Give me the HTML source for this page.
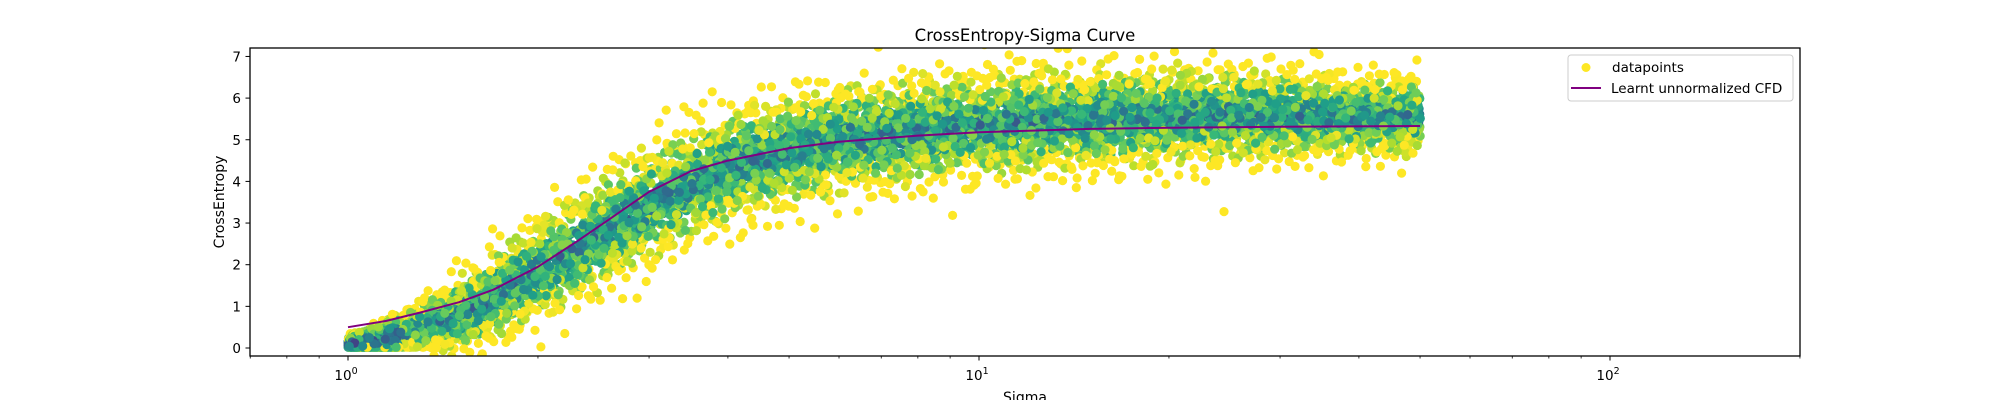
<!DOCTYPE html>
<html><head><meta charset="utf-8"><style>
html,body{margin:0;padding:0;background:#fff;}
svg text{font-family:"DejaVu Sans","Liberation Sans",sans-serif;fill:#000;}
</style></head><body>
<svg id="chart" width="2000" height="400" viewBox="0 0 2000 400" xmlns="http://www.w3.org/2000/svg">
<rect x="0" y="0" width="2000" height="400" fill="#fff"/>
<text x="1025" y="41" font-size="16.5" text-anchor="middle">CrossEntropy-Sigma Curve</text>
<defs><clipPath id="plotclip"><rect x="250" y="48" width="1550" height="308"/></clipPath></defs>
<g id="scatter" clip-path="url(#plotclip)"></g>
<g id="curve" clip-path="url(#plotclip)"></g>
<rect x="250" y="48" width="1550" height="308" fill="none" stroke="#000" stroke-width="1.3"/>
<g id="axes"></g>
<text x="1025" y="402" font-size="14" text-anchor="middle">Sigma</text>
<text x="0" y="0" font-size="14" text-anchor="middle" transform="translate(224,202) rotate(-90)">CrossEntropy</text>
<g>
<rect x="1568" y="55" width="225" height="46" rx="3" fill="#fff" fill-opacity="0.8" stroke="#ccc" stroke-width="1"/>
<circle cx="1586" cy="67.5" r="4.5" fill="#fde725"/>
<text x="1612" y="72" font-size="13.5">datapoints</text>
<line x1="1571" y1="88" x2="1601" y2="88" stroke="#800080" stroke-width="2"/>
<text x="1611" y="93" font-size="13.5">Learnt unnormalized CFD</text>
</g>
</svg>
<script>
// ---- data ----
const curveSigma = [1, 1.15, 1.3, 1.5, 1.7, 2.0, 2.3, 2.6, 3.0, 3.5, 4.0, 5.0, 6.0, 8.0, 10, 15, 20, 30, 50];
const curveCE    = [0.5, 0.65, 0.85, 1.1, 1.4, 1.95, 2.55, 3.1, 3.75, 4.25, 4.5, 4.8, 4.95, 5.1, 5.18, 5.26, 5.29, 5.31, 5.33];
const bandLogSigma = [0, 0.05, 0.1, 0.2, 0.3, 0.4, 0.5, 0.6, 0.7, 0.8, 1.0, 1.2, 1.4, 1.7];
const bandMean     = [0.1, 0.2, 0.4, 0.95, 1.85, 2.75, 3.65, 4.3, 4.75, 5.05, 5.35, 5.5, 5.6, 5.55];
const bandSpread   = [0.08, 0.15, 0.27, 0.48, 0.6, 0.66, 0.68, 0.68, 0.66, 0.64, 0.62, 0.6, 0.55, 0.45];
const xTickLabels = ["0", "1", "2"];
const yTicks = [0, 1, 2, 3, 4, 5, 6, 7];
const nPoints = 6500;

// ---- axes ----
const X0 = 348, DEC = 631, Y0 = 348, YU = 41.65;
const xScale = s => X0 + Math.log10(s) * DEC;
const xLog = l => X0 + l * DEC;
const yScale = v => Y0 - v * YU;
const NS = "http://www.w3.org/2000/svg";
function mk(tag, attrs, parent) {
  const e = document.createElementNS(NS, tag);
  for (const k in attrs) e.setAttribute(k, attrs[k]);
  parent.appendChild(e); return e;
}
function interp(xs, ys, x) {
  if (x <= xs[0]) return ys[0];
  for (let i = 1; i < xs.length; i++) if (x <= xs[i]) {
    const t = (x - xs[i-1]) / (xs[i] - xs[i-1]); return ys[i-1] + t * (ys[i] - ys[i-1]);
  }
  return ys[ys.length - 1];
}
function halton(i, b) { let f = 1, r = 0; while (i > 0) { f /= b; r += f * (i % b); i = Math.floor(i / b); } return r; }
const vir = [[68,1,84],[72,40,120],[62,74,137],[49,104,142],[38,130,142],[31,158,137],[53,183,121],[109,205,89],[180,222,44],[253,231,37]];
function viridis(t) {
  t = Math.max(0, Math.min(1, t)) * 9; const i = Math.min(8, Math.floor(t)), f = t - i;
  const c = vir[i].map((v, k) => Math.round(v + f * (vir[i+1][k] - v)));
  return `rgb(${c[0]},${c[1]},${c[2]})`;
}

const axes = document.getElementById('axes');
yTicks.forEach(v => {
  const y = yScale(v);
  const tk = mk('line', {x1: 245.5, y1: y, x2: 250, y2: y, stroke: '#000', 'stroke-width': 1}, axes);
  
  
  const t = mk('text', {x: 241, y: y + 5, 'font-size': 13.5, 'text-anchor': 'end'}, axes);
  t.textContent = String(v);
  
  
});
xTickLabels.forEach(p => {
  const x = xLog(+p);
  const tk = mk('line', {x1: x, y1: 356, x2: x, y2: 360.5, stroke: '#000', 'stroke-width': 1}, axes);
  
  
  const t = mk('text', {x: x - 2, y: 380, 'font-size': 13.5, 'text-anchor': 'middle'}, axes);
  t.textContent = '10';
  const sup = document.createElementNS(NS, 'tspan');
  sup.setAttribute('dy', -6); sup.setAttribute('font-size', 9.5); sup.textContent = p;
  t.appendChild(sup);
  
  
});
[-1, 0, 1, 2].forEach(d => {
  for (let m = 2; m <= 9; m++) {
    const v = m * Math.pow(10, d), x = xScale(v);
    if (x < 250 || x > 1800.5) continue;
    const tk = mk('line', {x1: x, y1: 356, x2: x, y2: 358.5, stroke: '#000', 'stroke-width': 0.8}, axes);
    
    
  }
});

// ---- scatter ----
const sc = document.getElementById('scatter');
let frag = document.createDocumentFragment();
for (let i = 1; i <= nPoints; i++) {
  let u = halton(i, 2);
  let l;
  if (i % 7 === 0) l = u * 0.08; else l = u * 1.7;
  const m = interp(bandLogSigma, bandMean, l), s = interp(bandLogSigma, bandSpread, l);
  const a = Math.max(1e-4, halton(i, 3)), b = halton(i, 5);
  const z = Math.sqrt(-2 * Math.log(a)) * Math.cos(2 * Math.PI * b);
  let v = m + z * s;
  if (l < 0.12) v = Math.max(v, 0.02);
  const h = halton(i, 7);
  const col = viridis(0.18 + 0.3 * Math.abs(z) + 0.55 * h);
  const c = document.createElementNS(NS, 'circle');
  c.setAttribute('cx', xLog(l).toFixed(1));
  c.setAttribute('cy', yScale(v).toFixed(1));
  c.setAttribute('r', 4.6);
  c.setAttribute('fill', col);
  
  
  frag.appendChild(c);
}
sc.appendChild(frag);

// ---- curve ----
const cg = document.getElementById('curve');
let d = '';
curveSigma.forEach((s, i) => { d += (i ? 'L' : 'M') + xScale(s).toFixed(1) + ',' + yScale(curveCE[i]).toFixed(1); });
const path = mk('path', {d: d, fill: 'none', stroke: '#800080', 'stroke-width': 2, 'stroke-linejoin': 'round'}, cg);


</script>
</body></html>
